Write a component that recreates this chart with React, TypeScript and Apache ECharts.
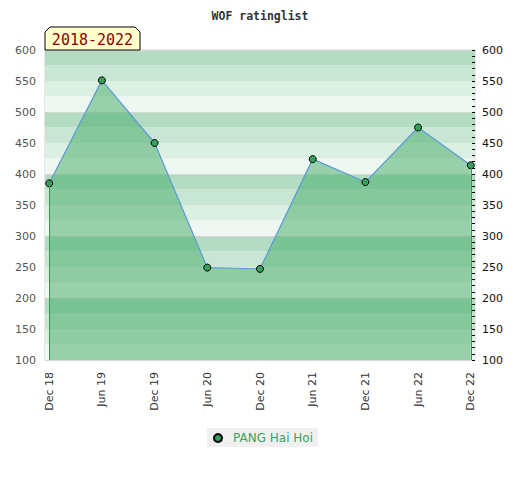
import React, { useEffect, useRef } from "react";
import * as echarts from "echarts";

const xLabels = ["Dec 18", "Jun 19", "Dec 19", "Jun 20", "Dec 20", "Jun 21", "Dec 21", "Jun 22", "Dec 22"];
const ratings = [385, 551, 450, 249, 247, 424, 387, 475, 414];
const yTicks = [100, 150, 200, 250, 300, 350, 400, 450, 500, 550, 600];
const bandColors = ["#eef7f1", "#dcefe3", "#c8e6d3", "#b3dcc2"];
const seriesName = "PANG Hai Hoi";
const periodLabel = "2018-2022";
const chartTitle = "WOF ratinglist";

export default function App() {
  const ref = useRef<HTMLDivElement>(null);
  useEffect(() => {
    document.body.style.margin = "0";
    const chart = echarts.init(ref.current!, null, { renderer: "svg" });
    const points = ratings.map((v, i) => [i, v]);
    const yMin = yTicks[0];
    const yMax = yTicks[yTicks.length - 1];
    const last = ratings.length - 1;
    chart.setOption({
      animation: false,
      title: {
        text: chartTitle,
        left: "center",
        top: 5,
        textStyle: { fontFamily: "DejaVu Sans Mono", fontWeight: "bold", fontSize: 11.5, color: "#333" },
      },
      grid: { left: 45, right: 45, top: 50, bottom: 120, show: true, borderColor: "#cfcfcf", borderWidth: 1, backgroundColor: "transparent" },
      legend: {
        bottom: 33,
        left: 207,
        backgroundColor: "#f0f0f0",
        padding: [4, 5, 3, 6],
        itemWidth: 8,
        itemHeight: 8,
        icon: "circle",
        textStyle: { color: "#3aa35e", fontSize: 12, fontFamily: "DejaVu Sans", padding: [0, 0, 0, 6] },
        data: [seriesName],
      },
      xAxis: {
        type: "value",
        min: -0.08,
        max: last + 0.08,
        axisLine: { show: false },
        axisTick: { show: false },
        splitLine: { show: false },
        axisLabel: {
          customValues: xLabels.map((_, i) => i),
          formatter: (v: number) => xLabels[Math.round(v)] ?? "",
          rotate: 90,
          margin: 12,
          color: "#333",
          fontSize: 11,
          fontFamily: "DejaVu Sans",
        },
      },
      yAxis: [
        {
          type: "value",
          min: yMin,
          max: yMax,
          interval: 50,
          position: "left",
          axisLine: { show: false },
          axisTick: { show: false },
          splitLine: { show: false },
          axisLabel: { color: "#555", fontSize: 11, fontFamily: "DejaVu Sans", margin: 9 },
        },
        {
          type: "value",
          min: yMin,
          max: yMax,
          interval: 50,
          position: "right",
          axisLine: { show: false },
          axisTick: { show: true, inside: true, length: 3, lineStyle: { color: "#000" } },
          minorTick: { show: true, splitNumber: 5, length: 3, lineStyle: { color: "#000" } },
          splitLine: { show: false },
          axisLabel: { color: "#111", fontSize: 11, fontFamily: "DejaVu Sans", margin: 7 },
        },
        {
          type: "value",
          min: yMin,
          max: yMax,
          interval: 25,
          position: "left",
          axisLine: { show: false },
          axisTick: { show: false },
          axisLabel: { show: false },
          splitLine: { show: false },
          splitArea: { show: true, areaStyle: { color: bandColors } },
        },
        {
          type: "value",
          min: yMin,
          max: yMax,
          interval: 100,
          position: "left",
          axisLine: { show: false },
          axisTick: { show: false },
          axisLabel: { show: false },
          splitLine: { show: true, lineStyle: { color: "#d6d6d6", width: 1 } },
        },
      ],
      series: [
        {
          name: seriesName,
          type: "line",
          yAxisIndex: 0,
          data: points,
          symbol: "circle",
          symbolSize: 7,
          itemStyle: { color: "#35a05c", borderColor: "#000", borderWidth: 1 },
          lineStyle: { color: "#5b9bd5", width: 1.2 },
          areaStyle: { color: "rgba(66,170,102,0.5)", opacity: 1, origin: "start" },
          markLine: {
            silent: true,
            symbol: "none",
            label: { show: false },
            lineStyle: { color: "#2e9a55", width: 1, type: "solid", opacity: 1 },
            data: [
              [{ coord: [0, yMin] }, { coord: [0, ratings[0]] }],
              [{ coord: [last, yMin] }, { coord: [last, ratings[last]] }],
            ],
          },
          z: 3,
        },
      ],
      graphic: [
        {
          type: "polygon",
          shape: { points: [[45, 50], [45, 32], [50, 27], [135, 27], [140, 32], [140, 50]] },
          style: { fill: "#ffffcc", stroke: "#000", lineWidth: 1 },
          z: 10,
        },
        {
          type: "text",
          x: 92.5,
          y: 40,
          style: {
            text: periodLabel,
            fill: "#8b0000",
            font: "15px 'DejaVu Sans Mono'",
            align: "center",
            verticalAlign: "middle",
          },
          z: 11,
        },
      ],
    });
    return () => chart.dispose();
  }, []);
  return <div ref={ref} style={{ width: 520, height: 480 }} />;
}
